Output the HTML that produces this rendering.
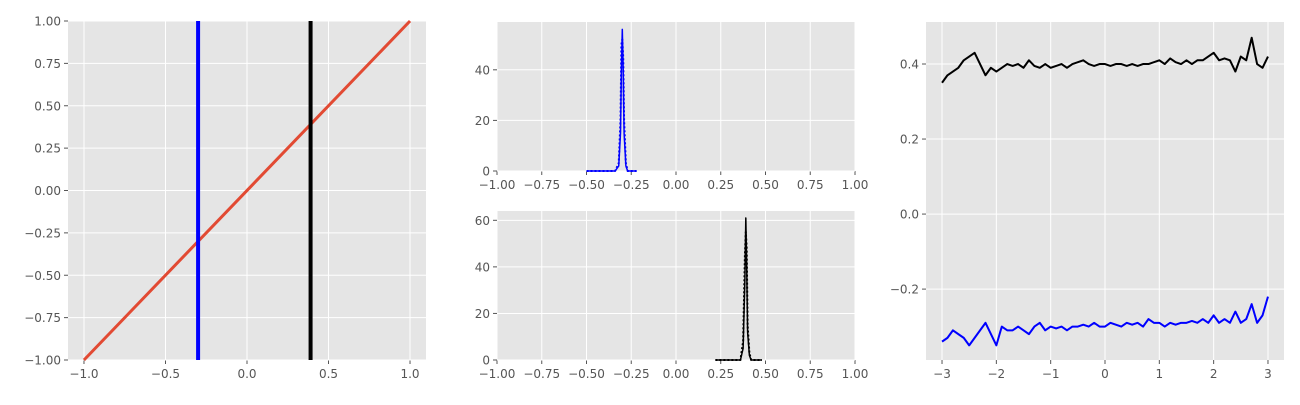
<!DOCTYPE html>
<html><head><meta charset="utf-8"><style>
body{margin:0;background:#fff;width:1300px;height:400px;overflow:hidden}
svg text{font-family:"DejaVu Sans",sans-serif;font-size:12px;fill:#555}
</style></head><body>
<svg id="chart" width="1300" height="400" xmlns="http://www.w3.org/2000/svg"></svg>
<script>
// Left panel data
const leftLine = [[-1,-1],[1,1]];
const blueVLine = -0.3;
const blackVLine = 0.39;
// Histogram (top) data
const histBlueX = [-0.5,-0.34,-0.32,-0.31,-0.305,-0.30,-0.295,-0.29,-0.28,-0.27,-0.22];
const histBlueY = [0,0,2,15,40,56,40,15,2,0,0];
const histBlueDotY = [0,0,3,20,50,52,45,20,3,0,0];
// Histogram (bottom) data
const histBlackX = [0.22,0.36,0.375,0.385,0.39,0.395,0.40,0.41,0.42,0.48];
const histBlackY = [0,0,5,35,61,40,12,2,0,0];
const histBlackDotY = [0,0,8,45,55,48,15,3,0,0];
// Right panel series
const rightX = [];
for(let i=0;i<=60;i++) rightX.push(-3+i*0.1);
const blackSeries = [0.35,0.37,0.38,0.39,0.41,0.42,0.43,0.40,0.37,0.39,0.38,0.39,0.40,0.395,0.40,0.39,0.41,0.395,0.39,0.40,0.39,0.395,0.40,0.39,0.40,0.405,0.41,0.40,0.395,0.40,0.40,0.395,0.40,0.40,0.395,0.40,0.395,0.40,0.40,0.405,0.41,0.40,0.415,0.405,0.40,0.41,0.40,0.41,0.41,0.42,0.43,0.41,0.415,0.41,0.38,0.42,0.41,0.47,0.40,0.39,0.42];
const blueSeries = [-0.34,-0.33,-0.31,-0.32,-0.33,-0.35,-0.33,-0.31,-0.29,-0.32,-0.35,-0.30,-0.31,-0.31,-0.30,-0.31,-0.32,-0.30,-0.29,-0.31,-0.30,-0.305,-0.30,-0.31,-0.30,-0.30,-0.295,-0.30,-0.29,-0.30,-0.30,-0.29,-0.295,-0.30,-0.29,-0.295,-0.29,-0.30,-0.28,-0.29,-0.29,-0.30,-0.29,-0.295,-0.29,-0.29,-0.285,-0.29,-0.28,-0.29,-0.27,-0.29,-0.28,-0.29,-0.26,-0.29,-0.28,-0.24,-0.29,-0.27,-0.22];
const leftXTicks=[-1,-0.5,0,0.5,1], leftXLabels=["−1.0","−0.5","0.0","0.5","1.0"];
const leftYTicks=[-1,-0.75,-0.5,-0.25,0,0.25,0.5,0.75,1], leftYLabels=["−1.00","−0.75","−0.50","−0.25","0.00","0.25","0.50","0.75","1.00"];
const midXTicks=[-1,-0.75,-0.5,-0.25,0,0.25,0.5,0.75,1], midXLabels=["−1.00","−0.75","−0.50","−0.25","0.00","0.25","0.50","0.75","1.00"];
const midTopYTicks=[0,20,40], midBotYTicks=[0,20,40,60];
const rightXTicks=[-3,-2,-1,0,1,2,3], rightXLabels=["−3","−2","−1","0","1","2","3"];
const rightYTicks=[-0.2,0,0.2,0.4], rightYLabels=["−0.2","0.0","0.2","0.4"];

const svg=document.getElementById('chart');
const NS="http://www.w3.org/2000/svg";
function el(tag,attrs,parent){const e=document.createElementNS(NS,tag);for(const k in attrs)e.setAttribute(k,attrs[k]);(parent||svg).appendChild(e);return e;}

function axes(name,x0,x1,y0,y1,xd,yd,xt,xl,yt,yl){
  const g=el('g',{});
  
  
  const sx=v=>x0+(v-xd[0])/(xd[1]-xd[0])*(x1-x0);
  const sy=v=>y1-(v-yd[0])/(yd[1]-yd[0])*(y1-y0);
  el('rect',{x:x0,y:y0,width:x1-x0,height:y1-y0,fill:'#e5e5e5'},g);
  xt.forEach((t,i)=>{const x=sx(t);
    el('line',{x1:x,x2:x,y1:y0,y2:y1,stroke:'#fff','stroke-width':1},g);
    el('line',{x1:x,x2:x,y1:y1,y2:y1+4,stroke:'#555'},g);
    const tx=el('text',{x:x,y:y1+18,'text-anchor':'middle'},g);tx.textContent=xl[i];
    
    });
  yt.forEach((t,i)=>{const y=sy(t);
    el('line',{x1:x0,x2:x1,y1:y,y2:y,stroke:'#fff','stroke-width':1},g);
    el('line',{x1:x0-4,x2:x0,y1:y,y2:y,stroke:'#555'},g);
    const tx=el('text',{x:x0-7,y:y+4.5,'text-anchor':'end'},g);tx.textContent=yl[i];
    
    });
  return {g,sx,sy};
}
function poly(a,xs,ys,color,w,name,dash){
  const p=el('polyline',{points:xs.map((x,i)=>a.sx(x)+','+a.sy(ys[i])).join(' '),fill:'none',stroke:color,'stroke-width':w,'stroke-linejoin':'round'},a.g);
  if(dash)p.setAttribute('stroke-dasharray',dash);
  
  
}
// Left
const A=axes('left-axes',68,426,21,360,[-1.098,1.098],[-1,1],leftXTicks,leftXLabels,leftYTicks,leftYLabels);
poly(A,leftLine.map(p=>p[0]),leftLine.map(p=>p[1]),'#e24a33',3,'identity-line');
poly(A,[blueVLine,blueVLine],[-1,1],'#0000ff',4,'blue-vertical-line');
poly(A,[blackVLine,blackVLine],[-1,1],'#000',4,'black-vertical-line');
// Middle top
const B=axes('hist-top-axes',497,855,22,171,[-1,1],[0,58.9],midXTicks,midXLabels,midTopYTicks,midTopYTicks.map(String));
poly(B,histBlueX,histBlueY,'#0000ff',1.5,'blue-density');
poly(B,histBlueX,histBlueDotY,'#0000ff',2,'blue-density-dotted','2,2');
// Middle bottom
const C=axes('hist-bottom-axes',497,855,211,360,[-1,1],[0,64],midXTicks,midXLabels,midBotYTicks,midBotYTicks.map(String));
poly(C,histBlackX,histBlackY,'#000',1.5,'black-density');
poly(C,histBlackX,histBlackDotY,'#000',2,'black-density-dotted','2,2');
// Right
const D=axes('right-axes',926,1284,22,360,[-3.295,3.295],[-0.389,0.512],rightXTicks,rightXLabels,rightYTicks,rightYLabels);
poly(D,rightX,blackSeries,'#000',2,'black-series');
poly(D,rightX,blueSeries,'#0000ff',2,'blue-series');
</script>
</body></html>
